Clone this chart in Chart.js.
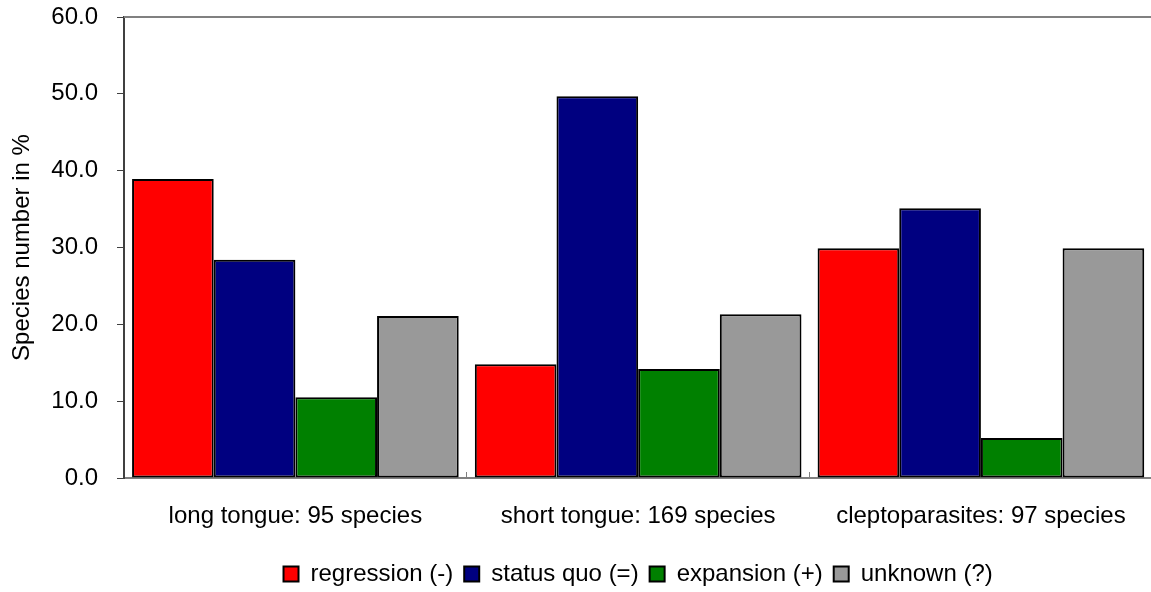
<!DOCTYPE html>
<html>
<head>
<meta charset="utf-8">
<script src="https://cdn.jsdelivr.net/npm/chart.js@4/dist/chart.umd.min.js"></script>
<style>
  html, body { margin: 0; padding: 0; background: #ffffff; overflow: hidden; }
  #wrap { width: 1156px; height: 592px; }
</style>
</head>
<body>
<div id="wrap"><canvas id="chart" width="1156" height="592"></canvas></div>
<script>
// Bee groups and share of species per range trend (%)
const categories = ['long tongue: 95 species', 'short tongue: 169 species', 'cleptoparasites: 97 species'];
const seriesNames = ['regression (-)', 'status quo (=)', 'expansion (+)', 'unknown (?)'];
const regression = [38.9, 14.8, 29.9];
const statusQuo = [28.4, 49.7, 35.1];
const expansion = [10.5, 14.2, 5.2];
const unknown = [21.1, 21.3, 29.9];
const seriesColors = ['#ff0000', '#000080', '#008000', '#999999'];
const yTicks = { min: 0, max: 60, step: 10 };

const FONT = 'Liberation Sans, Arial, sans-serif';
const FONT_SIZE = 24;

// Frame line along the top of the plot area
const topFrame = {
  id: 'topFrame',
  afterDraw(chart) {
    const { ctx, chartArea } = chart;
    ctx.save();
    ctx.strokeStyle = '#808080';
    ctx.lineWidth = 2;
    ctx.beginPath();
    ctx.moveTo(chartArea.left, chartArea.top);
    ctx.lineTo(chartArea.right, chartArea.top);
    ctx.stroke();
    ctx.restore();
  }
};

const seriesData = [regression, statusQuo, expansion, unknown];
const datasets = seriesNames.map((name, i) => ({
  label: name,
  data: seriesData[i],
  backgroundColor: seriesColors[i],
  borderColor: '#000000',
  borderWidth: 2,
  borderSkipped: false,
  barPercentage: 1,
  categoryPercentage: 0.953
}));

new Chart(document.getElementById('chart'), {
  type: 'bar',
  data: { labels: categories, datasets },
  plugins: [topFrame],
  options: {
    responsive: false,
    animation: false,
    layout: { padding: { top: 17, right: 2, left: 0, bottom: -4 } },
    plugins: {
      tooltip: { enabled: false },
      legend: {
        position: 'bottom',
        fullSize: false,
        labels: {
          color: '#000000',
          font: { family: FONT, size: FONT_SIZE },
          boxWidth: 15,
          boxHeight: 15,
          padding: 11
        }
      }
    },
    scales: {
      x: {
        afterFit(scale) { scale.height = 73; },
        grid: {
          display: true,
          drawOnChartArea: false,
          drawTicks: true,
          tickLength: -6,
          color: '#808080',
          lineWidth: 1,
          offset: true
        },
        border: { display: true, color: '#808080', width: 2 },
        ticks: {
          color: '#000000',
          font: { family: FONT, size: FONT_SIZE },
          padding: 30,
          maxRotation: 0
        }
      },
      y: {
        min: yTicks.min,
        max: yTicks.max,
        afterFit(scale) {
          scale.width = 124;
          scale.paddingTop = 0;
          scale.paddingBottom = 0;
        },
        grid: {
          display: true,
          drawOnChartArea: false,
          drawTicks: true,
          tickLength: 7,
          color: '#404040',
          lineWidth: 1
        },
        border: { display: true, color: '#404040', width: 2 },
        ticks: {
          stepSize: yTicks.step,
          color: '#000000',
          font: { family: FONT, size: FONT_SIZE },
          padding: 19,
          callback: (v) => Number(v).toFixed(1)
        },
        title: {
          display: true,
          text: 'Species number in %',
          color: '#000000',
          font: { family: FONT, size: FONT_SIZE },
          padding: { top: 8, bottom: 0 }
        }
      }
    }
  }
});
</script>
</body>
</html>
